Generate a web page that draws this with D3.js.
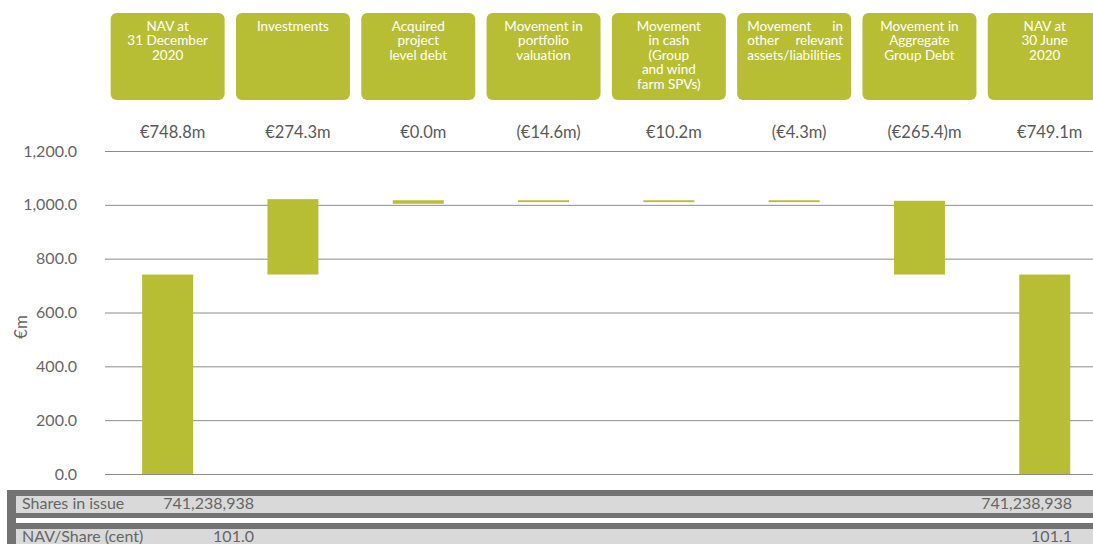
<!DOCTYPE html>
<html>
<head>
<meta charset="utf-8">
<script src="https://cdn.jsdelivr.net/npm/d3@7"></script>
<style>
  body { margin: 0; background: #fff; }
  text { font-family: Lato, "Open Sans", sans-serif; }
</style>
</head>
<body>
<svg width="1093" height="544"></svg>
<script>
// chart data
const categories = [
  ['NAV at', '31 December', '2020'],
  ['Investments'],
  ['Acquired', 'project', 'level debt'],
  ['Movement in', 'portfolio', 'valuation'],
  ['Movement', 'in cash', '(Group', 'and wind', 'farm SPVs)'],
  ['Movement   in', 'other   relevant', 'assets/liabilities'],
  ['Movement in', 'Aggregate', 'Group Debt'],
  ['NAV at', '30 June', '2020']
];
const valueLabels = ['€748.8m', '€274.3m', '€0.0m', '(€14.6m)', '€10.2m', '(€4.3m)', '(€265.4)m', '€749.1m'];
const barLow  = [0,   741,  1004, 1010, 1010, 1010, 741,  0];
const barHigh = [741, 1021, 1017, 1017, 1017, 1017, 1015, 741];
const yTicks = [0, 200, 400, 600, 800, 1000, 1200];
const tableRows = ['Shares in issue', 'NAV/Share (cent)'];
const tableFirst = ['741,238,938', '101.0'];
const tableLast  = ['741,238,938', '101.1'];

const svg = d3.select('svg');
const width  = +svg.attr('width');
const green = '#b7be34';
const grey = '#666666';

const idx = d3.range(categories.length);

const xScale = d3.scaleBand()
  .domain(idx)
  .range([105, 1107.4])
  .paddingInner(0.593)
  .paddingOuter(0.2965);
const cx = i => xScale(i) + xScale.bandwidth() / 2;

const yScale = d3.scaleLinear()
  .domain([0, 1200])
  .range([474, 151]);

// gridlines + tick labels
const yAxis = d3.axisLeft(yScale)
  .tickValues(yTicks)
  .tickSize(-(width - 105))
  .tickPadding(28)
  .tickFormat(d3.format(',.1f'));
const yAxisG = svg.append('g')
  .attr('transform', 'translate(105,0)')
  .call(yAxis);
yAxisG.select('.domain').remove();
yAxisG.selectAll('line').attr('stroke', '#8c8c8c');
yAxisG.selectAll('text')
  .attr('fill', grey)
  .style('font-size', '16px')
  .style('font-family', 'Lato, sans-serif');

svg.append('text')
  .attr('transform', 'translate(27,327) rotate(-90)')
  .attr('text-anchor', 'middle')
  .attr('fill', grey)
  .style('font-size', '17px')
  .text('€m');

// floating bars
svg.selectAll('.bar')
  .data(idx)
  .join('rect')
  .attr('class', 'bar')
  .attr('x', i => xScale(i))
  .attr('width', xScale.bandwidth())
  .attr('y', i => yScale(barHigh[i]))
  .attr('height', i => yScale(barLow[i]) - yScale(barHigh[i]))
  .attr('fill', green);

// header boxes
const boxW = 114;
const heads = svg.selectAll('.head')
  .data(idx)
  .join('g')
  .attr('class', 'head');

heads.append('rect')
  .attr('x', i => cx(i) - boxW / 2)
  .attr('y', 13)
  .attr('width', boxW)
  .attr('height', 87)
  .attr('rx', 6)
  .attr('fill', green);

heads.each(function(i) {
  const g = d3.select(this);
  categories[i].forEach((line, k) => {
    const words = line.split(/\s{2,}/);
    const y = 30.5 + k * 14.6;
    if (words.length > 1) {          // justified lines
      g.append('text').attr('x', cx(i) - 47).attr('y', y)
        .attr('fill', '#fff').style('font-size', '13.5px').text(words[0]);
      g.append('text').attr('x', cx(i) + 49).attr('y', y)
        .attr('text-anchor', 'end')
        .attr('fill', '#fff').style('font-size', '13.5px').text(words[1]);
    } else {
      g.append('text').attr('x', cx(i)).attr('y', y)
        .attr('text-anchor', 'middle')
        .attr('fill', '#fff').style('font-size', '13.5px').text(line);
    }
  });
});

// value labels
svg.selectAll('.val')
  .data(idx)
  .join('text')
  .attr('class', 'val')
  .attr('x', i => cx(i) + 5)
  .attr('y', 138)
  .attr('text-anchor', 'middle')
  .attr('fill', '#595959')
  .style('font-size', '16.5px')
  .text(i => valueLabels[i]);

// table at the bottom
svg.append('rect').attr('x', 7).attr('y', 490).attr('width', width - 7).attr('height', 54).attr('fill', '#737373');
svg.append('rect').attr('x', 16).attr('y', 496).attr('width', width - 16).attr('height', 17).attr('fill', '#d9d9d9');
svg.append('rect').attr('x', 16).attr('y', 518).attr('width', width - 16).attr('height', 5).attr('fill', '#fff');
svg.append('rect').attr('x', 16).attr('y', 529).attr('width', width - 16).attr('height', 15).attr('fill', '#d9d9d9');

const rowY = [509, 542];
tableRows.forEach((r, k) => {
  svg.append('text').attr('x', 22).attr('y', rowY[k])
    .attr('fill', grey).style('font-size', '16px').text(r);
  svg.append('text').attr('x', 254).attr('y', rowY[k])
    .attr('text-anchor', 'end')
    .attr('fill', grey).style('font-size', '16px').text(tableFirst[k]);
  svg.append('text').attr('x', 1072).attr('y', rowY[k])
    .attr('text-anchor', 'end')
    .attr('fill', grey).style('font-size', '16px').text(tableLast[k]);
});
</script>
</body>
</html>
